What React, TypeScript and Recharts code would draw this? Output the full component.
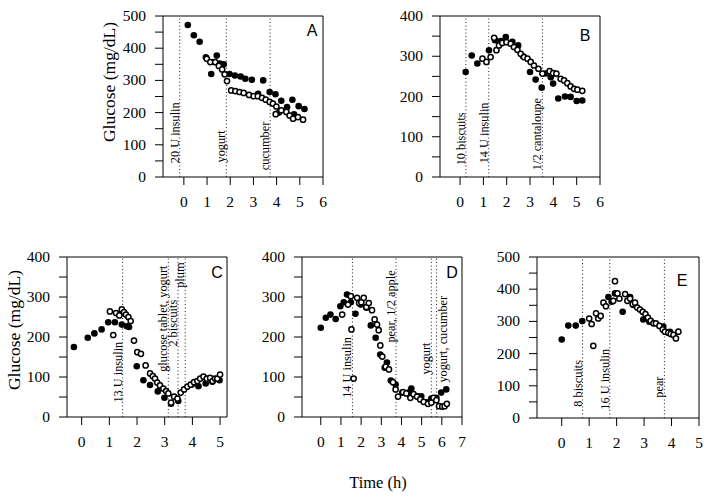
import React from 'react';
import { ScatterChart, Scatter, XAxis, YAxis, ReferenceLine, ReferenceArea } from 'recharts';

const SERIF = '"Liberation Serif", "Times New Roman", serif';
const SANS = '"Liberation Sans", Arial, sans-serif';

type P = [number, number];
type Note = { x: number; y: number; label: string; side: 'left' | 'right' };

// ---------- Panel A ----------
const aFilled: P[] = [[0.17,472],[0.43,440],[0.68,420],[0.95,372],[1.18,320],[1.3,357],[1.42,377],[1.55,352],[1.72,350],[1.97,320],[2.2,315],[2.45,312],[2.65,305],[2.93,302],[3.2,258],[3.42,300],[3.7,264],[3.95,257],[4.1,200],[4.2,237],[4.45,217],[4.68,240],[4.75,195],[4.95,220],[5.2,211]];
const aOpen: P[] = [[0.99,367],[1.14,357],[1.35,357],[1.51,345],[1.65,334],[1.76,319],[1.86,298],[2.04,269],[2.22,267],[2.4,264],[2.58,261],[2.81,255],[3.01,251],[3.19,251],[3.37,246],[3.53,240],[3.7,233],[3.84,228],[3.96,195],[3.99,219],[4.2,207],[4.42,202],[4.56,191],[4.71,181],[4.92,186],[5.14,178]];
const aNotes: Note[] = [
  { x: -0.18, y: 43, label: '20 U insulin', side: 'left' },
  { x: 1.83, y: 45, label: 'yogurt', side: 'left' },
  { x: 3.72, y: 21, label: 'cucumber', side: 'left' },
];
const aTicksX = [0, 1, 2, 3, 4, 5, 6];
const aTicksY = [0, 50, 100, 150, 200, 250, 300, 350, 400, 450, 500];

// ---------- Panel B ----------
const bFilled: P[] = [[0.24,261],[0.5,302],[0.74,282],[1.24,315],[1.5,340],[1.75,338],[1.96,348],[2.24,336],[2.49,327],[2.7,300],[3.0,261],[3.24,242],[3.5,222],[3.67,257],[3.89,248],[3.99,232],[4.21,195],[4.5,200],[4.74,199],[5.0,189],[5.24,190]];
const bOpen: P[] = [[0.96,294],[1.13,286],[1.31,298],[1.46,346],[1.56,315],[1.67,327],[1.81,333],[1.99,335],[2.17,331],[2.31,323],[2.46,316],[2.6,306],[2.74,298],[2.89,294],[3.03,286],[3.17,277],[3.36,269],[3.53,257],[3.84,263],[3.99,258],[4.13,257],[4.31,244],[4.46,240],[4.6,233],[4.74,225],[4.89,219],[5.03,217],[5.24,214]];
const bNotes: Note[] = [
  { x: 0.25, y: 29, label: '10 biscuits', side: 'left' },
  { x: 1.23, y: 34, label: '14 U insulin', side: 'left' },
  { x: 3.53, y: 17, label: '1/2 cantaloupe', side: 'left' },
];
const bTicksX = [0, 1, 2, 3, 4, 5, 6];
const bTicksY = [0, 50, 100, 150, 200, 250, 300, 350, 400];

// ---------- Panel C ----------
const cFilled: P[] = [[-0.28,175],[0.22,198],[0.46,209],[0.72,219],[0.96,237],[1.2,237],[1.45,231],[1.63,227],[1.71,225],[1.99,127],[2.23,92],[2.47,80],[2.75,64],[2.99,48],[3.23,33],[3.49,40],[3.98,81],[4.22,77],[4.48,84],[4.72,88],[4.98,92]];
const cOpen: P[] = [[1.02,264],[1.14,205],[1.24,260],[1.36,254],[1.45,269],[1.53,262],[1.6,256],[1.69,250],[1.77,240],[1.89,191],[2.01,162],[2.14,158],[2.31,129],[2.47,109],[2.57,102],[2.65,96],[2.73,86],[2.83,79],[2.95,71],[3.05,65],[3.13,59],[3.23,36],[3.34,51],[3.46,46],[3.58,61],[3.7,69],[3.82,76],[3.94,81],[4.06,87],[4.18,90],[4.28,96],[4.4,101],[4.52,96],[4.64,98],[4.73,90],[4.82,96],[4.9,96],[5.0,106]];
const cNotes: Note[] = [
  { x: 1.48, y: 36, label: '13 U insulin', side: 'left' },
  { x: 3.13, y: 113, label: 'glucose tablet, yogurt', side: 'left' },
  { x: 3.48, y: 176, label: '2 biscuits', side: 'left' },
  { x: 3.74, y: 323, label: 'plum', side: 'left' },
];
const cTicksX = [0, 1, 2, 3, 4, 5];
const cTicksY = [0, 50, 100, 150, 200, 250, 300, 350, 400];

// ---------- Panel D ----------
const dFilled: P[] = [[0,223],[0.25,248],[0.48,256],[0.74,245],[0.97,277],[1.14,287],[1.3,306],[1.49,287],[1.72,258],[1.98,281],[2.26,273],[2.48,229],[2.72,198],[2.95,156],[3.17,123],[3.28,136],[3.47,91],[3.71,81],[4.04,61],[4.37,62],[4.49,71],[4.79,52],[4.98,52],[5.26,37],[5.48,46],[5.73,48],[5.97,61],[6.22,69]];
const dOpen: P[] = [[1.06,256],[1.35,281],[1.49,302],[1.52,219],[1.63,96],[1.8,298],[1.9,285],[2.01,287],[2.13,298],[2.26,275],[2.38,285],[2.54,267],[2.67,244],[2.79,231],[2.87,217],[2.95,179],[3.05,151],[3.22,126],[3.38,119],[3.58,87],[3.71,69],[3.83,51],[4.08,62],[4.24,59],[4.44,48],[4.6,57],[4.77,51],[4.93,44],[5.1,38],[5.31,33],[5.48,36],[5.59,48],[5.73,42],[5.86,27],[6.02,26],[6.14,27],[6.25,33]];
const dNotes: Note[] = [
  { x: 1.57, y: 48, label: '14 U insulin', side: 'left' },
  { x: 3.73, y: 186, label: 'pear, 1/2 apple', side: 'left' },
  { x: 5.48, y: 106, label: 'yogurt', side: 'left' },
  { x: 5.74, y: 86, label: 'yogurt, cucumber', side: 'right' },
];
const dTicksX = [0, 1, 2, 3, 4, 5, 6, 7];
const dTicksY = [0, 50, 100, 150, 200, 250, 300, 350, 400];

// ---------- Panel E ----------
const eFilled: P[] = [[0,244],[0.24,287],[0.51,287],[0.75,301],[1.7,376],[1.82,361],[1.94,387],[2.22,330],[2.49,376],[2.61,351],[2.97,306],[3.19,299],[3.7,284],[3.94,268]];
const eOpen: P[] = [[1.0,309],[1.09,292],[1.15,224],[1.25,325],[1.33,309],[1.42,317],[1.52,358],[1.61,347],[1.88,364],[1.94,425],[2.03,387],[2.1,371],[2.31,385],[2.39,364],[2.49,371],[2.58,354],[2.67,358],[2.75,343],[2.85,337],[2.95,330],[3.05,323],[3.14,312],[3.24,302],[3.34,294],[3.43,294],[3.56,286],[3.68,275],[3.76,268],[3.88,265],[3.97,261],[4.07,258],[4.16,247],[4.25,268]];
const eNotes: Note[] = [
  { x: 0.76, y: 35, label: '8 biscuits', side: 'left' },
  { x: 1.75, y: 26, label: '16 U insulin', side: 'left' },
  { x: 3.74, y: 63, label: 'pear', side: 'left' },
];
const eTicksX = [0, 1, 2, 3, 4, 5];
const eTicksY = [0, 50, 100, 150, 200, 250, 300, 350, 400, 450, 500];

const toObj = (arr: P[]) => arr.map(([x, y]) => ({ x, y }));

const XTick = (props: any) => {
  const { x, y, payload } = props;
  return (
    <g>
      <line x1={x} x2={x} y1={y} y2={y + 8} stroke="#000" strokeWidth={1} />
      <text x={x} y={y + 30} textAnchor="middle" fontSize={15.5} fontFamily={SERIF} fill="#000">
        {payload.value}
      </text>
    </g>
  );
};

const YTick = (props: any) => {
  const { x, y, payload } = props;
  const show = payload.value % 100 === 0;
  return (
    <g>
      <line x1={x - 8} x2={x} y1={y} y2={y} stroke="#000" strokeWidth={1} />
      {show && (
        <text x={x - 17} y={y + 5} textAnchor="end" fontSize={15.5} fontFamily={SERIF} fill="#000">
          {payload.value}
        </text>
      )}
    </g>
  );
};

const filledShape = (p: any) => <circle cx={p.cx} cy={p.cy} r={3.3} fill="#000" />;
const openShape = (p: any) => <circle cx={p.cx} cy={p.cy} r={2.6} fill="#fff" stroke="#000" strokeWidth={1.5} />;
const noteShape = (p: any) => {
  const side = p.payload?.side;
  const bx = side === 'right' ? p.cx + 10 : p.cx - 1;
  return (
    <text
      x={bx}
      y={p.cy}
      transform={`rotate(-90, ${bx}, ${p.cy})`}
      textAnchor="start"
      fontSize={12.3}
      fontFamily={SERIF}
      fill="#000"
    >
      {p.payload?.label}
    </text>
  );
};

type PanelProps = {
  left: number;
  top: number;
  w: number;
  h: number;
  xDomain: [number, number];
  xTicks: number[];
  yTicks: number[];
  filled: P[];
  open: P[];
  notes: Note[];
};

const YW = 60;
const Panel = ({ left, top, w, h, xDomain, xTicks, yTicks, filled, open, notes }: PanelProps) => {
  const yMax = yTicks[yTicks.length - 1];
  return (
    <div style={{ position: 'absolute', left: left - YW, top: top - 10 }}>
      <ScatterChart width={YW + w + 10} height={10 + h + 40} margin={{ top: 10, right: 10, bottom: 0, left: 0 }}>
        <XAxis
          type="number"
          dataKey="x"
          domain={xDomain}
          ticks={xTicks}
          interval={0}
          allowDataOverflow
          axisLine={false}
          tickSize={0}
          tickMargin={0}
          height={40}
          tick={<XTick />}
        />
        <YAxis
          type="number"
          dataKey="y"
          domain={[0, yMax]}
          ticks={yTicks}
          interval={0}
          allowDataOverflow
          axisLine={false}
          tickSize={0}
          tickMargin={0}
          width={YW}
          tick={<YTick />}
        />
        <ReferenceArea
          x1={xDomain[0]}
          x2={xDomain[1]}
          y1={0}
          y2={yMax}
          fill="none"
          fillOpacity={0}
          stroke="#000"
          strokeWidth={1}
          ifOverflow="visible"
        />
        {notes.map((n) => (
          <ReferenceLine key={n.label + n.x} x={n.x} stroke="#222" strokeWidth={1} strokeDasharray="1 2.5" />
        ))}
        <Scatter data={notes} shape={noteShape} isAnimationActive={false} />
        <Scatter data={toObj(filled)} shape={filledShape} isAnimationActive={false} />
        <Scatter data={toObj(open)} shape={openShape} isAnimationActive={false} />
      </ScatterChart>
    </div>
  );
};

export default function App() {
  return (
    <div style={{ position: 'absolute', left: 0, top: 0, width: 712, height: 501, background: '#fff', overflow: 'hidden' }}>
      <Panel left={163} top={16} w={160} h={161} xDomain={[-0.9, 6]} xTicks={aTicksX} yTicks={aTicksY} filled={aFilled} open={aOpen} notes={aNotes} />
      <Panel left={440} top={16} w={160} h={161} xDomain={[-0.86, 6]} xTicks={bTicksX} yTicks={bTicksY} filled={bFilled} open={bOpen} notes={bNotes} />
      <Panel left={67} top={257} w={160} h={160} xDomain={[-0.53, 5.25]} xTicks={cTicksX} yTicks={cTicksY} filled={cFilled} open={cOpen} notes={cNotes} />
      <Panel left={302} top={257} w={160} h={160} xDomain={[-0.93, 7]} xTicks={dTicksX} yTicks={dTicksY} filled={dFilled} open={dOpen} notes={dNotes} />
      <Panel left={537} top={257} w={162} h={161} xDomain={[-0.9, 5]} xTicks={eTicksX} yTicks={eTicksY} filled={eFilled} open={eOpen} notes={eNotes} />
      <svg width={712} height={501} style={{ position: 'absolute', left: 0, top: 0, pointerEvents: 'none' }}>
        <text x={115} y={82} transform="rotate(-90, 115, 82)" textAnchor="middle" fontSize={17.5} fontFamily={SERIF} fill="#000">
          Glucose (mg/dL)
        </text>
        <text x={20} y={330} transform="rotate(-90, 20, 330)" textAnchor="middle" fontSize={17.5} fontFamily={SERIF} fill="#000">
          Glucose (mg/dL)
        </text>
        <text x={378} y={488} textAnchor="middle" fontSize={16.5} fontFamily={SERIF} fill="#000">
          Time (h)
        </text>
        <text x={312} y={36} textAnchor="middle" fontSize={16} fontFamily={SANS} fill="#000">A</text>
        <text x={585} y={41} textAnchor="middle" fontSize={16} fontFamily={SANS} fill="#000">B</text>
        <text x={217} y={278} textAnchor="middle" fontSize={16} fontFamily={SANS} fill="#000">C</text>
        <text x={452} y={278} textAnchor="middle" fontSize={16} fontFamily={SANS} fill="#000">D</text>
        <text x={682} y={286} textAnchor="middle" fontSize={16} fontFamily={SANS} fill="#000">E</text>
      </svg>
    </div>
  );
}
